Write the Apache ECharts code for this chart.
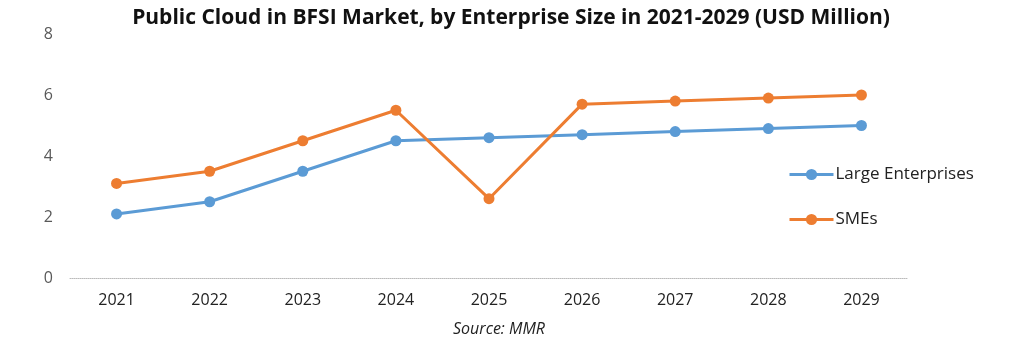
<!DOCTYPE html>
<html><head><meta charset="utf-8">
<script src="https://cdn.jsdelivr.net/npm/echarts@6/dist/echarts.min.js"></script>
<style>html,body{margin:0;padding:0;background:#fff}#c{width:1022px;height:341px}</style>
</head><body><div id="c"></div>
<script>
const categories = ['2021','2022','2023','2024','2025','2026','2027','2028','2029'];
const largeEnterprises = [2.1, 2.5, 3.5, 4.5, 4.6, 4.7, 4.8, 4.9, 5.0];
const smes = [3.1, 3.5, 4.5, 5.5, 2.6, 5.7, 5.8, 5.9, 6.0];
const yTicks = [0, 2, 4, 6, 8];

const font = "'Open Sans', 'Noto Sans', sans-serif";
const chart = echarts.init(document.getElementById('c'));
chart.setOption({
  animation: false,
  backgroundColor: '#fff',
  title: [{
    text: 'Public Cloud in BFSI Market, by Enterprise Size in 2021-2029 (USD Million)',
    left: 506, top: 3, textAlign: 'center',
    textStyle: { fontFamily: font, fontSize: 21, fontWeight: 'bold', color: '#111' }
  }, {
    text: 'Source: MMR',
    left: 494, top: 316, textAlign: 'center',
    textStyle: { fontFamily: font, fontSize: 16, fontStyle: 'italic', fontWeight: 'normal', color: '#222' }
  }],
  legend: {
    orient: 'vertical', left: 783, top: 161, itemGap: 28,
    itemWidth: 44, itemHeight: 14,
    lineStyle: { width: 3 },
    itemStyle: { borderWidth: 0 },
    textStyle: { fontFamily: font, fontSize: 17, color: '#222', padding: [0, 0, 0, -3] },
    data: ['Large Enterprises', 'SMEs']
  },
  grid: { left: 70, right: 114, top: 34, bottom: 63 },
  xAxis: {
    type: 'category', data: categories, boundaryGap: true,
    axisLine: { lineStyle: { color: '#bbb', width: 1, type: 'dotted' } },
    axisTick: { show: false },
    axisLabel: { fontFamily: font, fontSize: 16, color: '#222', margin: 14 }
  },
  yAxis: {
    type: 'value', min: yTicks[0], max: yTicks[yTicks.length - 1], interval: 2,
    splitLine: { show: false },
    axisLine: { show: false }, axisTick: { show: false },
    axisLabel: { fontFamily: font, fontSize: 16, color: '#595959', margin: 17 }
  },
  series: [{
    name: 'Large Enterprises', type: 'line', data: largeEnterprises,
    symbol: 'circle', symbolSize: 11,
    itemStyle: { color: '#5B9BD5' }, lineStyle: { color: '#5B9BD5', width: 3 }
  }, {
    name: 'SMEs', type: 'line', data: smes,
    symbol: 'circle', symbolSize: 11,
    itemStyle: { color: '#ED7D31' }, lineStyle: { color: '#ED7D31', width: 3 }
  }]
});
</script></body></html>
